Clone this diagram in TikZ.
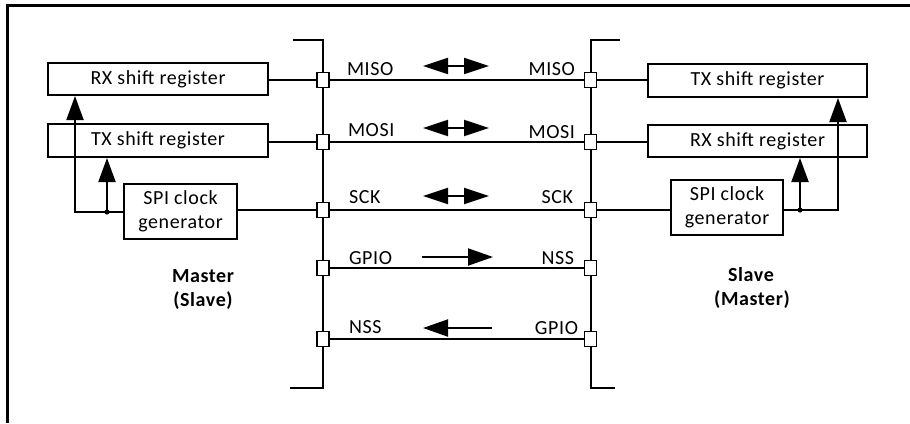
\documentclass[tikz,border=0pt]{standalone}
\usepackage{fontspec}
\setmainfont[LetterSpace=3]{Carlito}
\usetikzlibrary{arrows.meta}
\begin{document}
\begin{tikzpicture}[x=1pt,y=-1pt,line width=2pt,
  font=\fontsize{20}{24}\selectfont,
  box/.style={draw,line width=2pt,inner sep=0pt,fill=white,align=center},
  pin/.style={draw,fill=white,minimum width=12pt,minimum height=15pt,inner sep=0pt,line width=1.8pt},
  lbl/.style={inner sep=0pt,anchor=base west},
  rlbl/.style={inner sep=0pt,anchor=base east},
  side/.style={inner sep=0pt,anchor=base,font=\fontsize{20}{24}\selectfont\bfseries},
  uptip/.style={-{Triangle[length=24pt,width=17pt]}},
  onetip/.style={-{Triangle[length=25pt,width=17pt]}},
  dbltip/.style={{Triangle[length=25pt,width=16pt]}-{Triangle[length=25pt,width=16pt]}}]
\useasboundingbox (0,0) rectangle (910,423);
% frame
\coordinate (fa) at (7,423);
\coordinate (fb) at (7,5);
\coordinate (fc) at (910,5);
\draw[line width=3pt] (fa) -- (fb) -- (fc);

% buses
\coordinate (lb0) at (293,40);
\coordinate (lb1) at (323,40);
\coordinate (lb2) at (323,388);
\coordinate (lb3) at (290,388);
\draw (lb0) -- (lb1) -- (lb2) -- (lb3);
\coordinate (rb0) at (620,40);
\coordinate (rb1) at (590.5,40);
\coordinate (rb2) at (590.5,388);
\coordinate (rb3) at (615,388);
\draw (rb0) -- (rb1) -- (rb2) -- (rb3);

% boxes
\node[box,minimum width=220pt,minimum height=32pt] (lrx) at (158,79) {RX shift register};
\node[box,minimum width=220pt,minimum height=33pt] (ltx) at (158,140.5) {TX shift register};
\node[box,minimum width=113pt,minimum height=55pt] (lspi) at (180.5,211.5) {SPI clock\\generator};
\node[box,minimum width=219pt,minimum height=33pt] (rtx) at (757.5,80.5) {TX shift register};
\node[box,minimum width=219pt,minimum height=32pt] (rrx) at (757.5,141) {RX shift register};
\node[box,minimum width=112pt,minimum height=55pt] (rspi) at (727,207.5) {SPI clock\\generator};

% pin positions
\coordinate (lc1) at (323,80);
\coordinate (lc2) at (323,142);
\coordinate (lc3) at (323,210);
\coordinate (lc4) at (323,268);
\coordinate (lc5) at (323,339);
\coordinate (rc1) at (590.5,80);
\coordinate (rc2) at (590.5,142);
\coordinate (rc3) at (590.5,210);
\coordinate (rc4) at (590.5,268);
\coordinate (rc5) at (590.5,339);

% wires
\draw (lc1) -- (lc1 -| lrx.east);
\draw (lc2) -- (lc2 -| ltx.east);
\draw (lc3) -- (lc3 -| lspi.east);
\draw (rc1) -- (rc1 -| rtx.west);
\draw (rc2) -- (rc2 -| rrx.west);
\draw (rc3) -- (rc3 -| rspi.west);
\draw (lc1) -- (rc1);
\draw (lc2) -- (rc2);
\draw (lc3) -- (rc3);
\draw (lc4) -- (rc4);
\draw (lc5) -- (rc5);

\foreach \i in {1,...,5} {
  \node[pin] (lp\i) at (lc\i) {};
  \node[pin] (rp\i) at (rc\i) {};
}

% clock feedback left
\coordinate (lcorner) at (75,212);
\coordinate (ldot) at (107,212);
\draw[uptip] (lspi.west |- lcorner) -- (lcorner) -- (lcorner |- lrx.south);
\draw[uptip] (ldot) -- (ldot |- ltx.south);
\fill (ldot) circle (2.6pt);
% clock feedback right
\coordinate (rcorner) at (838,210);
\coordinate (rdot) at (800,210);
\draw[uptip] (rspi.east |- rcorner) -- (rcorner) -- (rcorner |- rtx.south);
\draw[uptip] (rdot) -- (rdot |- rrx.south);
\fill (rdot) circle (2.6pt);

% direction arrows
\coordinate (a1l) at (423,66);  \coordinate (a1r) at (489,66);
\coordinate (a2l) at (423,128); \coordinate (a2r) at (489,128);
\coordinate (a3l) at (423,196); \coordinate (a3r) at (489,196);
\coordinate (a4l) at (422,257); \coordinate (a4r) at (493,257);
\coordinate (a5l) at (423,328); \coordinate (a5r) at (492,328);
\draw[dbltip] (a1l) -- (a1r);
\draw[dbltip] (a2l) -- (a2r);
\draw[dbltip] (a3l) -- (a3r);
\draw[onetip] (a4l) -- (a4r);
\draw[onetip] (a5r) -- (a5l);

% signal labels
\node[lbl] (t1l) at (346,75) {MISO};
\node[lbl] (t2l) at (347,136) {MOSI};
\node[lbl] (t3l) at (348,203) {SCK};
\node[lbl] (t4l) at (348,264) {GPIO};
\node[lbl] (t5l) at (348,333) {NSS};
\node[rlbl] (t1r) at (576,75) {MISO};
\node[rlbl] (t2r) at (576,138) {MOSI};
\node[rlbl] (t3r) at (574,203) {SCK};
\node[rlbl] (t4r) at (575,264) {NSS};
\node[rlbl] (t5r) at (579,334) {GPIO};

% side labels
\node[side] (m1) at (203,282) {Master};
\node[side] (m2) at (203,306) {(Slave)};
\node[side] (s1) at (751,281) {Slave};
\node[side] (s2) at (752,305) {(Master)};
\end{tikzpicture}
\end{document}
